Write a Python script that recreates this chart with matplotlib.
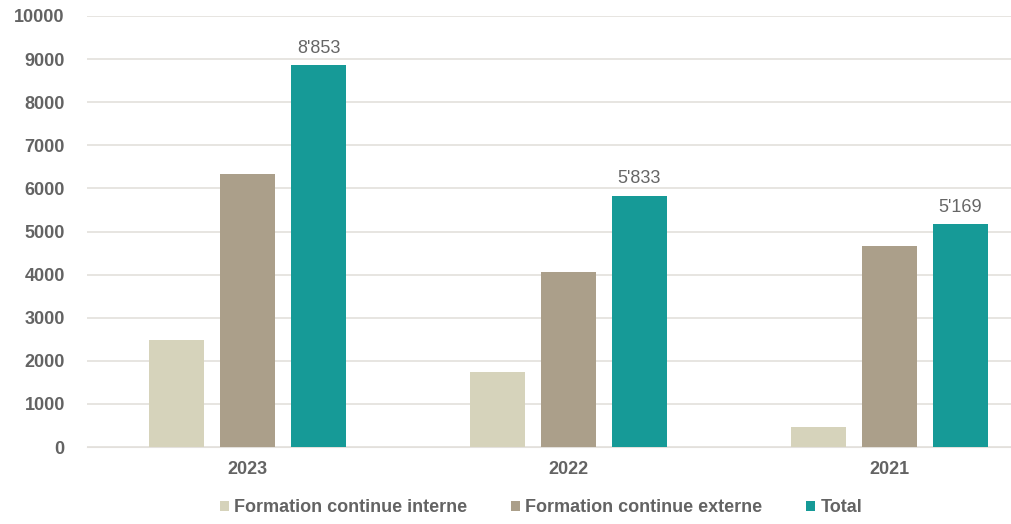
import matplotlib
matplotlib.use("Agg")
import matplotlib.pyplot as plt
import numpy as np

years = ["2023", "2022", "2021"]
series_names = ["Formation continue interne", "Formation continue externe", "Total"]
interne = [2490, 1730, 470]
externe = [6330, 4060, 4660]
total = [8853, 5833, 5169]
total_labels = ["8'853", "5'833", "5'169"]
colors = ["#d6d3bb", "#ab9f8a", "#169a97"]

plt.rcParams['font.family'] = ['Liberation Sans', 'DejaVu Sans']
fig = plt.figure(figsize=(10.11, 5.24), dpi=100)
ax = fig.add_axes([87/1011, 77/524, 963/1011, 431/524])

x = np.arange(len(years))
w = 0.174
off = 0.221
for i, (vals, c, name) in enumerate(zip([interne, externe, total], colors, series_names)):
    bars = ax.bar(x + (i - 1) * off, vals, width=w, color=c, label=name, zorder=3)
    if i == 2:
        for b, lab in zip(bars, total_labels):
            ax.text(b.get_x() + b.get_width()/2, b.get_height() + 200, lab,
                    ha='center', va='bottom', fontsize=13, color='#666666')

ax.set_xlim(-0.5, 2.5)
ax.set_ylim(0, 10000)
ax.set_yticks(range(0, 10001, 1000))
ax.set_xticks(x)
ax.set_xticklabels(years)
ax.grid(axis='y', color='#e3e0dc', linewidth=1.2, zorder=0)
for s in ax.spines.values():
    s.set_visible(False)
ax.spines['bottom'].set_visible(True)
ax.spines['bottom'].set_color('#e3e0dc')
ax.tick_params(axis='both', length=0, labelsize=13, labelcolor='#636363')
ax.tick_params(axis='y', pad=16)
ax.tick_params(axis='x', pad=10)
for t in ax.get_xticklabels() + ax.get_yticklabels():
    t.set_fontweight('bold')

leg = fig.legend(loc='center', bbox_to_anchor=(541/1011, 1 - 508/524), ncol=3, frameon=False,
                 prop={'size': 13, 'weight': 'bold'}, handlelength=0.5, handleheight=0.5,
                 handletextpad=0.3, columnspacing=2.4)
for t in leg.get_texts():
    t.set_color('#636363')

fig.savefig("out.png", dpi=100)
